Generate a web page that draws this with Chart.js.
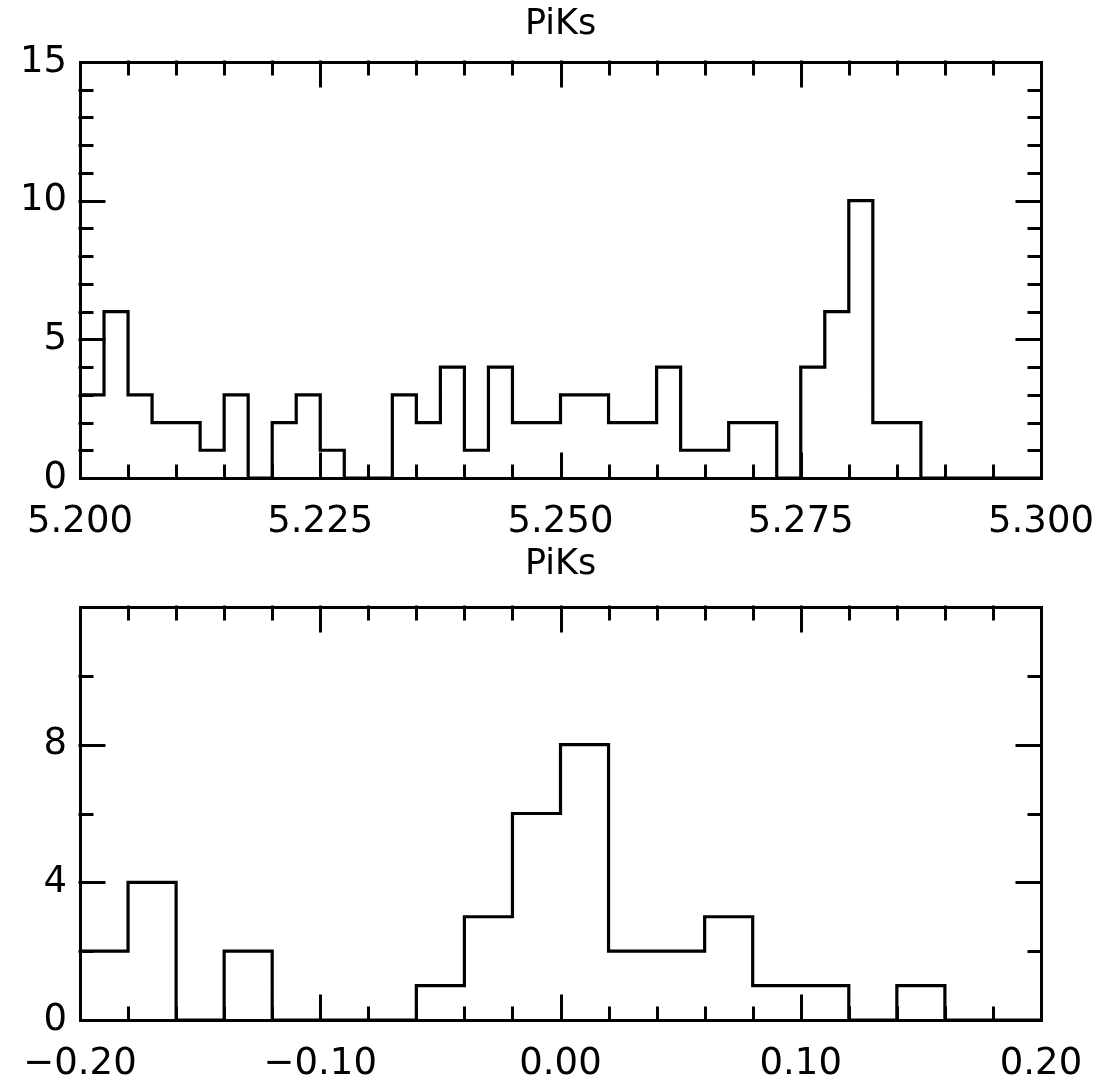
<!DOCTYPE html>
<html>
<head>
<meta charset="utf-8">
<script src="https://cdn.jsdelivr.net/npm/chart.js@4.4.1/dist/chart.umd.min.js"></script>
<style>
  html, body { margin: 0; padding: 0; background: #fff; }
  .box { position: absolute; left: 0; width: 1102px; height: 542px; }
</style>
</head>
<body>
<div class="box" style="top:0"><canvas id="massChart"></canvas></div>
<div class="box" style="top:542px"><canvas id="deChart"></canvas></div>
<script>
// top histogram: mass, 40 bins of 0.0025 from 5.200
var massStart = 5.200;
var massBinWidth = 0.0025;
var massCounts = [3, 6, 3, 2, 2, 1, 3, 0, 2, 3,
                  1, 0, 0, 3, 2, 4, 1, 4, 2, 2,
                  3, 3, 2, 2, 4, 1, 1, 2, 2, 0,
                  4, 6, 10, 2, 2, 0, 0, 0, 0, 0];

// bottom histogram: deltaE, 20 bins of 0.02 from -0.20
var deStart = -0.20;
var deBinWidth = 0.02;
var deCounts = [2, 4, 0, 2, 0, 0, 0, 1, 3, 6,
                8, 2, 2, 3, 1, 1, 0, 1, 0, 0];

var titleText = 'PiKs';

var fontFamily = '"DejaVu Sans", sans-serif';

function histPoints(start, width, counts) {
  var pts = [{ x: start, y: 0 }];
  for (var i = 0; i < counts.length; i++) {
    pts.push({ x: start + i * width, y: counts[i] });
  }
  var end = start + counts.length * width;
  pts.push({ x: end, y: counts[counts.length - 1] });
  pts.push({ x: end, y: 0 });
  return pts;
}

// frame + inward major/minor ticks on all four sides
var frameTicks = {
  id: 'frameTicks',
  afterDraw: function (chart, args, opts) {
    var ctx = chart.ctx;
    var a = chart.chartArea;
    var xs = chart.scales.x, ys = chart.scales.y;
    ctx.save();
    ctx.strokeStyle = '#000';
    ctx.lineWidth = 3;
    ctx.lineCap = 'square';
    ctx.beginPath();
    var n, i, v, p, len;
    n = Math.round((xs.max - xs.min) / opts.xMinor);
    for (i = 1; i < n; i++) {
      v = xs.min + i * opts.xMinor;
      p = Math.round(xs.getPixelForValue(v)) + 0.5;
      len = (i % opts.xPer === 0) ? 24 : 12;
      ctx.moveTo(p, a.bottom); ctx.lineTo(p, a.bottom - len);
      ctx.moveTo(p, a.top); ctx.lineTo(p, a.top + len);
    }
    n = Math.round((ys.max - ys.min) / opts.yMinor);
    for (i = 1; i < n; i++) {
      v = ys.min + i * opts.yMinor;
      p = Math.round(ys.getPixelForValue(v)) + 0.5;
      len = (i % opts.yPer === 0) ? 24 : 12;
      ctx.moveTo(a.left, p); ctx.lineTo(a.left + len, p);
      ctx.moveTo(a.right, p); ctx.lineTo(a.right - len, p);
    }
    ctx.stroke();
    ctx.lineCap = 'butt';
    ctx.lineJoin = 'miter';
    ctx.strokeRect(Math.round(a.left) + 0.5, Math.round(a.top) + 0.5,
                   Math.round(a.right - a.left), Math.round(a.bottom - a.top));
    ctx.restore();
  }
};

function makeHist(id, start, width, counts, xMax, xMajor, xMinor, xDigits, yMax, yMajor, yMinor, hideTop, titlePad) {
  var ctx = document.getElementById(id).getContext('2d');
  return new Chart(ctx, {
    type: 'line',
    data: {
      datasets: [{
        data: histPoints(start, width, counts),
        stepped: 'before',
        borderColor: '#000',
        borderWidth: 3.2,
        pointRadius: 0,
        fill: false
      }]
    },
    plugins: [frameTicks],
    options: {
      responsive: true,
      maintainAspectRatio: false,
      animation: false,
      layout: { padding: { left: 0, right: 61, top: 0, bottom: 0 } },
      plugins: {
        legend: { display: false },
        tooltip: { enabled: false },
        title: {
          display: true,
          fullSize: false,
          text: titleText,
          color: '#000',
          font: { family: fontFamily, size: 35, weight: 'normal', lineHeight: 1.2 },
          padding: titlePad
        },
        frameTicks: { xMinor: xMinor, xPer: Math.round(xMajor / xMinor), yMinor: yMinor, yPer: Math.round(yMajor / yMinor) }
      },
      scales: {
        x: {
          type: 'linear',
          min: start,
          max: xMax,
          grid: { display: false, drawTicks: false },
          border: { display: false },
          afterFit: function (s) { s.height = 64; s.paddingLeft = 0; s.paddingRight = 0; },
          ticks: {
            stepSize: xMajor,
            padding: 22,
            maxRotation: 0,
            autoSkip: false,
            color: '#000',
            font: { family: fontFamily, size: 37 },
            callback: function (v) { return v.toFixed(xDigits).replace('-', '\u2212'); }
          }
        },
        y: {
          min: 0,
          max: yMax,
          grid: { display: false, drawTicks: false },
          border: { display: false },
          afterFit: function (s) { s.width = 80; s.paddingTop = 0; s.paddingBottom = 0; },
          ticks: {
            stepSize: yMajor,
            padding: 13,
            color: '#000',
            font: { family: fontFamily, size: 37 },
            callback: function (v) { return (hideTop && v === yMax) ? '' : String(v); }
          }
        }
      }
    }
  });
}

makeHist('massChart', massStart, massBinWidth, massCounts, 5.300, 0.025, 0.005, 3, 15, 5, 1, false, { top: 4, bottom: 16 });
makeHist('deChart', deStart, deBinWidth, deCounts, 0.20, 0.10, 0.02, 2, 12, 4, 2, true, { top: 2, bottom: 21 });
</script>
</body>
</html>
